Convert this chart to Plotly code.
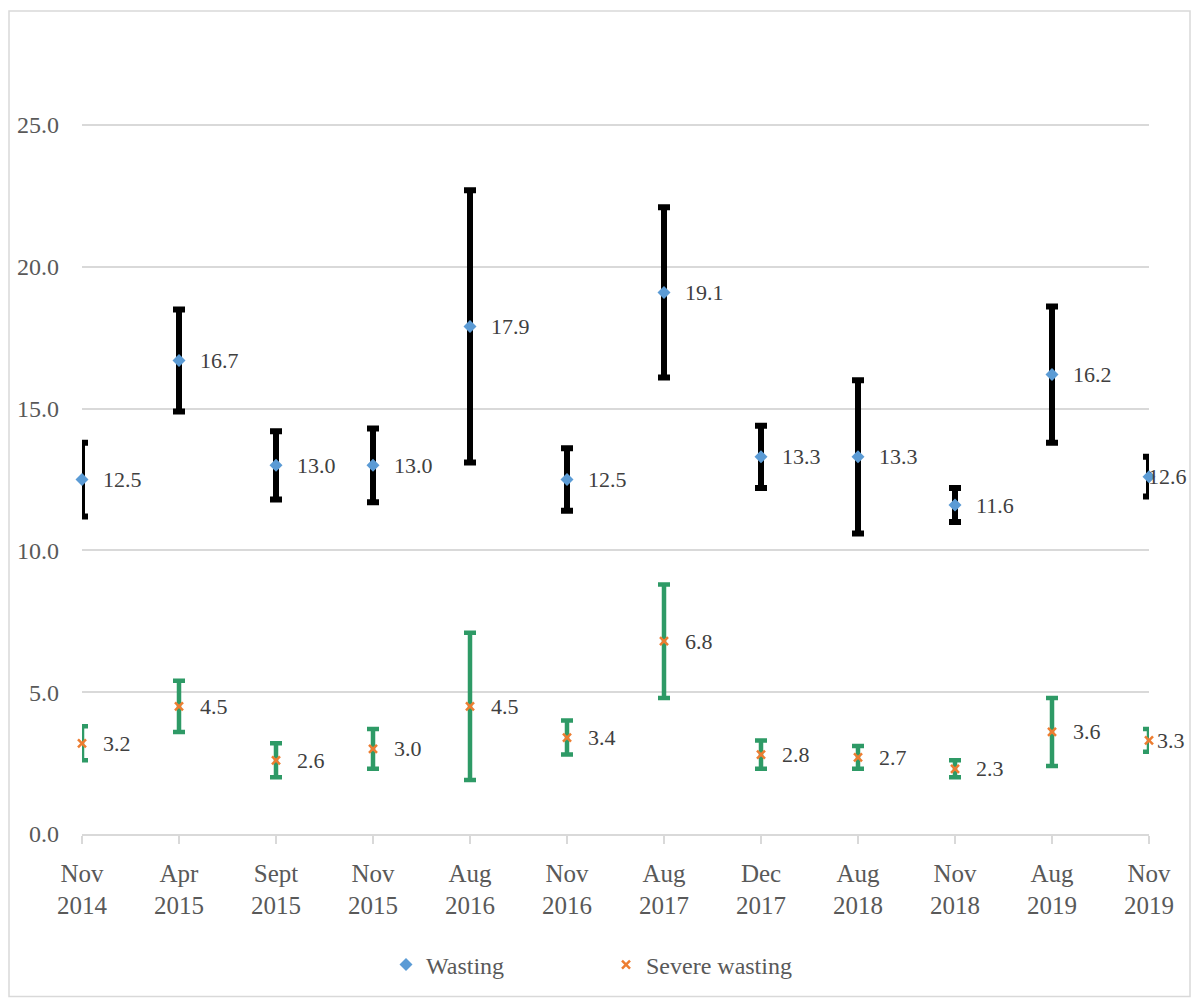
import plotly.graph_objects as go

categories = ["Nov<br>2014", "Apr<br>2015", "Sept<br>2015", "Nov<br>2015", "Aug<br>2016", "Nov<br>2016",
              "Aug<br>2017", "Dec<br>2017", "Aug<br>2018", "Nov<br>2018", "Aug<br>2019", "Nov<br>2019"]

wasting = [12.5, 16.7, 13.0, 13.0, 17.9, 12.5, 19.1, 13.3, 13.3, 11.6, 16.2, 12.6]
wasting_low = [11.2, 14.9, 11.8, 11.7, 13.1, 11.4, 16.1, 12.2, 10.6, 11.0, 13.8, 11.9]
wasting_high = [13.8, 18.5, 14.2, 14.3, 22.7, 13.6, 22.1, 14.4, 16.0, 12.2, 18.6, 13.3]

severe = [3.2, 4.5, 2.6, 3.0, 4.5, 3.4, 6.8, 2.8, 2.7, 2.3, 3.6, 3.3]
severe_low = [2.6, 3.6, 2.0, 2.3, 1.9, 2.8, 4.8, 2.3, 2.3, 2.0, 2.4, 2.9]
severe_high = [3.8, 5.4, 3.2, 3.7, 7.1, 4.0, 8.8, 3.3, 3.1, 2.6, 4.8, 3.7]

y_ticks = [0, 5, 10, 15, 20, 25]

FONT = "Liberation Serif, serif"
BLUE = "#5B9BD5"
ORANGE = "#ED7D31"
GREEN = "#2E9A66"
GRID = "#D9D9D9"
TXT = "#595959"

fig = go.Figure()

# error bar traces (clipped to the plot area)
fig.add_trace(go.Scatter(
    x=categories, y=wasting, mode="markers",
    marker=dict(size=4, opacity=0), showlegend=False, hoverinfo="skip", cliponaxis=True,
    error_y=dict(type="data", symmetric=False,
                 array=[h - v for h, v in zip(wasting_high, wasting)],
                 arrayminus=[v - l for v, l in zip(wasting, wasting_low)],
                 color="#000000", thickness=6, width=6)))
fig.add_trace(go.Scatter(
    x=categories, y=severe, mode="markers",
    marker=dict(size=4, opacity=0), showlegend=False, hoverinfo="skip", cliponaxis=True,
    error_y=dict(type="data", symmetric=False,
                 array=[h - v for h, v in zip(severe_high, severe)],
                 arrayminus=[v - l for v, l in zip(severe, severe_low)],
                 color=GREEN, thickness=4.5, width=6)))

# marker traces
fig.add_trace(go.Scatter(
    x=categories, y=wasting, mode="markers", name="Wasting", cliponaxis=False,
    marker=dict(symbol="diamond", size=10, color=BLUE)))
fig.add_trace(go.Scatter(
    x=categories, y=severe, mode="markers", name="Severe wasting", cliponaxis=False,
    marker=dict(symbol="x-thin", size=8, color=ORANGE, line=dict(color=ORANGE, width=2.5))))

# data labels
n = len(categories)
for series in (wasting, severe):
    for i, (c, v) in enumerate(zip(categories, series)):
        shift = 19
        if i == n - 1:
            shift = -3 if series is wasting else 6
        fig.add_annotation(x=c, y=v, text=f"{v:.1f}", showarrow=False,
                           xanchor="left", yanchor="middle", xshift=shift,
                           font=dict(family=FONT, size=22, color="#404040"))

# outer border
fig.add_shape(type="rect", xref="paper", yref="paper",
              x0=(9 - 82) / 1067, x1=(1190 - 82) / 1067,
              y0=(836 - 999) / 796, y1=(836 - 11) / 796,
              line=dict(color=GRID, width=1.5), layer="below")

fig.update_layout(
    width=1193, height=1000,
    margin=dict(l=82, r=44, t=40, b=164),
    paper_bgcolor="white", plot_bgcolor="white",
    font=dict(family=FONT, color=TXT),
    legend=dict(orientation="h", x=(386 - 82) / 1067, xanchor="left", y=-0.165, yanchor="middle",
                entrywidth=175, entrywidthmode="pixels",
                font=dict(family=FONT, size=24, color=TXT)),
    xaxis=dict(type="category", categoryorder="array", categoryarray=categories,
               range=[0, n - 1], showgrid=False, showline=True, linecolor=GRID, linewidth=1.5,
               ticks="outside", ticklen=8, tickcolor=GRID, tickwidth=1.5, ticklabelstandoff=8,
               tickfont=dict(family=FONT, size=25, color=TXT), zeroline=False),
    yaxis=dict(range=[0, 28], tickvals=y_ticks, tickformat=".1f", showgrid=True,
               gridcolor=GRID, gridwidth=1.5, zeroline=False, showline=False, ticks="",
               ticklabelstandoff=22, tickfont=dict(family=FONT, size=24, color=TXT)),
)

fig.write_html("out.html")
